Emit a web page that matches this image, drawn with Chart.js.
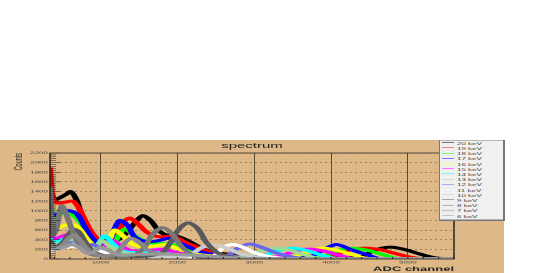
<!DOCTYPE html>
<html lang="en">
  <head>
    <meta charset="UTF-8" />
    <title>spectrum</title>
    <script src="https://cdn.jsdelivr.net/npm/chart.js"></script>
    <style>
      html, body { margin: 0; background: #fff; overflow: hidden; }
      /* The reference is squashed vertically, so draw at double height and scale down */
      #wrap {
        position: absolute; left: 0; top: 140px;
        width: 504px; height: 266px;
        transform: scaleY(0.5); transform-origin: top left;
        filter: blur(0.35px);
      }
      #title {
        position: absolute; left: 0; top: 2px; width: 504px; text-align: center;
        font: 15px "Liberation Sans", sans-serif; color: #222;
      }
      #legend {
        position: absolute; left: 439px; top: 0; width: 63px; height: 158px;
        background: #f0f0f0; border: 1px solid #777;
        border-right: 2px solid #777; border-bottom: 3px solid #777;
        font: 8px "Liberation Sans", sans-serif; color: #444;
      }
      #legend div { position: absolute; left: 2px; white-space: nowrap; height: 10px; line-height: 10px; }
      #legend i { display: inline-block; width: 12px; height: 1px; margin-right: 3px; vertical-align: 3px; }
    </style>
  </head>
  <body>
    <div id="wrap">
      <canvas id="chart" width="504" height="266"></canvas>
      <div id="title">spectrum</div>
      <div id="legend"></div>
    </div>
    <script>
      const xTicks = [1000, 2000, 3000, 4000, 5000];
      const yTicks = [0, 200, 400, 600, 800, 1000, 1200, 1400, 1600, 1800, 2000, 2200];
      const names = ["20 keV", "19 keV", "18 keV", "17 keV", "16 keV", "15 keV", "14 keV", "13 keV", "12 keV", "11 keV", "10 keV", "9 keV", "8 keV", "7 keV", "6 keV"];
      const colors = ["#000000", "#ff0000", "#00ff00", "#0000ff", "#ffff00", "#ff00ff", "#00ffff", "#99dd99", "#6666ee", "#ffffff", "#cccccc", "#5a5a5a", "#777777", "#888888", "#999999"];

      const chan20 = [342, 400, 480, 560, 610, 680, 760, 850, 950, 1050, 1150, 1250, 1350, 1450, 1550, 1650, 1750, 1850, 2000, 2150, 2350, 2600, 2900, 3300, 3800, 4200, 4400, 4500, 4650, 4800, 4950, 5100, 5250, 5400, 5600];
      const count20 = [1500, 1230, 1280, 1350, 1400, 1250, 900, 600, 430, 380, 370, 420, 560, 760, 900, 800, 600, 500, 470, 370, 200, 110, 70, 40, 30, 30, 50, 130, 220, 245, 200, 130, 60, 15, 5];
      const chan19 = [342, 380, 440, 540, 640, 720, 800, 900, 1000, 1100, 1200, 1300, 1380, 1480, 1600, 1700, 1800, 1950, 2100, 2300, 2500, 2800, 3300, 3700, 4000, 4200, 4440, 4650, 4800, 5000, 5200, 5600];
      const count19 = [1900, 1250, 1160, 1180, 1200, 1050, 800, 520, 380, 330, 420, 760, 850, 740, 560, 480, 460, 470, 350, 220, 110, 60, 40, 30, 50, 170, 225, 190, 130, 50, 5, 5];
      const chan18 = [342, 400, 500, 620, 740, 850, 950, 1050, 1150, 1310, 1450, 1600, 1750, 1900, 2100, 2300, 2600, 3000, 3500, 3900, 4100, 4290, 4500, 4700, 4900, 5600];
      const count18 = [1100, 880, 950, 930, 760, 480, 300, 220, 280, 620, 480, 350, 320, 310, 230, 130, 70, 40, 30, 60, 180, 222, 170, 80, 5, 5];
      const chan17 = [342, 400, 500, 600, 700, 800, 900, 1000, 1100, 1180, 1250, 1350, 1450, 1600, 1750, 1900, 2050, 2300, 2600, 3000, 3500, 3750, 3900, 4070, 4250, 4450, 4650, 5600];
      const count17 = [1000, 900, 980, 1000, 920, 650, 420, 290, 320, 620, 800, 700, 450, 360, 380, 430, 320, 150, 70, 40, 30, 60, 190, 300, 200, 100, 5, 5];
      const chan16 = [342, 400, 500, 620, 720, 820, 920, 1020, 1110, 1180, 1280, 1400, 1550, 1700, 1850, 2000, 2200, 2500, 2900, 3300, 3550, 3720, 3900, 4100, 4300, 4500, 5600];
      const count16 = [750, 620, 680, 720, 640, 430, 270, 210, 370, 600, 500, 320, 250, 270, 300, 220, 110, 60, 35, 30, 60, 170, 225, 170, 80, 5, 5];
      const chan15 = [342, 400, 500, 620, 720, 820, 920, 1020, 1130, 1250, 1400, 1600, 1800, 2000, 2300, 2700, 3150, 3350, 3520, 3720, 3920, 4120, 4320, 5600];
      const count15 = [500, 420, 470, 520, 430, 290, 180, 220, 400, 290, 170, 170, 200, 130, 60, 30, 25, 60, 160, 205, 160, 70, 5, 5];
      const chan14 = [342, 400, 500, 600, 700, 800, 900, 980, 1055, 1150, 1280, 1500, 1700, 2000, 2400, 2800, 3100, 3300, 3500, 3700, 3900, 4100, 5600];
      const count14 = [420, 340, 400, 450, 380, 260, 190, 330, 480, 340, 170, 130, 140, 90, 40, 25, 60, 170, 222, 170, 70, 5, 5];
      const chan13 = [342, 420, 520, 640, 760, 860, 950, 1020, 1120, 1300, 1500, 1800, 2200, 2600, 2900, 3090, 3290, 3490, 3690, 3900, 5600];
      const count13 = [380, 300, 350, 400, 290, 160, 260, 380, 270, 130, 100, 100, 45, 25, 60, 170, 222, 170, 70, 5, 5];
      const chan12 = [342, 420, 520, 640, 760, 830, 900, 1000, 1150, 1400, 1700, 2100, 2450, 2650, 2780, 2940, 3100, 3280, 3500, 3700, 5600];
      const count12 = [300, 240, 280, 340, 220, 240, 300, 220, 110, 70, 70, 40, 30, 70, 220, 310, 240, 130, 40, 5, 5];
      const chan11 = [342, 420, 540, 660, 780, 860, 950, 1100, 1300, 1600, 2000, 2300, 2480, 2590, 2720, 2860, 3020, 3230, 3480, 5600];
      const count11 = [160, 190, 240, 260, 200, 170, 180, 120, 60, 60, 40, 30, 70, 230, 300, 240, 120, 40, 5, 5];
      const chan10 = [342, 420, 540, 680, 800, 900, 1050, 1300, 1600, 2000, 2150, 2320, 2470, 2620, 2820, 3030, 3280, 5600];
      const count10 = [280, 210, 250, 320, 210, 110, 70, 60, 50, 35, 70, 240, 290, 240, 110, 40, 5, 5];
      const chan9 = [342, 400, 500, 580, 650, 720, 800, 900, 1050, 1300, 1600, 1800, 1900, 2020, 2140, 2260, 2380, 2520, 2700, 2950, 5600];
      const count9 = [400, 250, 330, 500, 620, 560, 360, 160, 70, 50, 60, 130, 320, 620, 750, 640, 340, 130, 40, 5, 5];
      const chan8 = [342, 380, 420, 495, 560, 640, 720, 820, 950, 1150, 1400, 1560, 1680, 1810, 1930, 2060, 2200, 2400, 5600];
      const count8 = [1500, 500, 600, 1100, 900, 560, 300, 130, 70, 50, 60, 220, 520, 650, 520, 250, 80, 5, 5];
      const chan7 = [342, 400, 500, 580, 650, 730, 820, 950, 1100, 1220, 1320, 1400, 1500, 1620, 1780, 1950, 2200, 2500, 2800, 5600];
      const count7 = [300, 220, 280, 420, 500, 400, 220, 90, 70, 130, 340, 430, 350, 180, 110, 100, 80, 50, 10, 5];
      const chan6 = [342, 420, 520, 620, 720, 820, 900, 1000, 1100, 1250, 1400, 1800, 2200, 2600, 3000, 5600];
      const count6 = [220, 200, 240, 300, 240, 120, 130, 250, 180, 80, 90, 100, 80, 40, 10, 5];

      const chans = [chan20, chan19, chan18, chan17, chan16, chan15, chan14, chan13, chan12, chan11, chan10, chan9, chan8, chan7, chan6];
      const counts = [count20, count19, count18, count17, count16, count15, count14, count13, count12, count11, count10, count9, count8, count7, count6];

      // 20 keV is painted first, 6 keV last (highest order goes underneath)
      const datasets = names.map((name, i) => ({
        label: name,
        data: chans[i].map((c, j) => ({ x: c, y: counts[i][j] })),
        borderColor: colors[i],
        borderWidth: 6,
        tension: 0.3,
        pointRadius: 0,
        order: names.length - i,
      }));

      // Frame, background and the small ticks inside the frame
      const rootStyle = {
        id: "rootStyle",
        beforeDraw(chart) {
          const c = chart.ctx;
          c.save();
          c.fillStyle = "#deb887";
          c.fillRect(0, 0, chart.width, chart.height);
          c.restore();
        },
        afterDraw(chart) {
          const c = chart.ctx;
          const a = chart.chartArea;
          const x = chart.scales.x;
          const y = chart.scales.y;
          c.save();
          c.strokeStyle = "#222";
          c.lineWidth = 1;
          for (let v = 0; v <= 2200; v += 40) {
            const p = y.getPixelForValue(v);
            const len = v % 200 === 0 ? 10 : 6;
            c.beginPath();
            c.moveTo(a.left, p);
            c.lineTo(a.left + len, p);
            c.stroke();
          }
          for (let v = 400; v <= 5600; v += 200) {
            const p = x.getPixelForValue(v);
            c.beginPath();
            c.moveTo(p, a.bottom);
            c.lineTo(p, a.bottom - 4);
            c.stroke();
          }
          c.lineWidth = 1.5;
          c.strokeRect(a.left, a.top, a.right - a.left, a.bottom - a.top);
          c.restore();
        },
      };

      new Chart(document.getElementById("chart"), {
        type: "line",
        data: { datasets },
        plugins: [rootStyle],
        options: {
          responsive: false,
          animation: false,
          layout: { padding: { top: 26, right: 50 } },
          plugins: {
            legend: { display: false },
            tooltip: { enabled: false },
          },
          scales: {
            x: {
              type: "linear",
              min: 342,
              max: 5600,
              afterBuildTicks: (s) => { s.ticks = xTicks.map((v) => ({ value: v })); },
              afterFit: (s) => { s.height = 28; },
              grid: { color: "#5a4a30", drawTicks: false, lineWidth: 1 },
              border: { display: false },
              ticks: {
                color: "#444",
                maxRotation: 0,
                padding: 2,
                font: { family: "Liberation Sans", size: 8 },
                callback: (v) => String(v),
              },
              title: {
                display: true,
                text: "ADC channel",
                align: "end",
                color: "#222",
                padding: { top: 0, bottom: 0 },
                font: { family: "Liberation Sans", size: 13, weight: "bold" },
              },
            },
            y: {
              min: 0,
              max: 2200,
              afterBuildTicks: (s) => { s.ticks = yTicks.map((v) => ({ value: v })); },
              afterFit: (s) => { s.width = 50; },
              grid: { color: "#5a4a30", drawTicks: false, lineWidth: 1 },
              border: { display: false, dash: [2, 3] },
              ticks: {
                color: "#444",
                padding: 2,
                font: { family: "Liberation Sans", size: 8 },
                callback: (v) => String(v),
              },
              title: {
                display: true,
                text: "Counts",
                align: "end",
                color: "#222",
                padding: { top: 12, bottom: 0 },
                font: { family: "Liberation Sans", size: 11 },
              },
            },
          },
        },
      });

      // Legend box
      const legend = document.getElementById("legend");
      names.forEach((name, i) => {
        const row = document.createElement("div");
        row.style.top = i * 10.4 + 1 + "px";
        const line = document.createElement("i");
        line.style.background = colors[i];
        row.appendChild(line);
        row.appendChild(document.createTextNode(name));
        legend.appendChild(row);
      });
    </script>
  </body>
</html>
